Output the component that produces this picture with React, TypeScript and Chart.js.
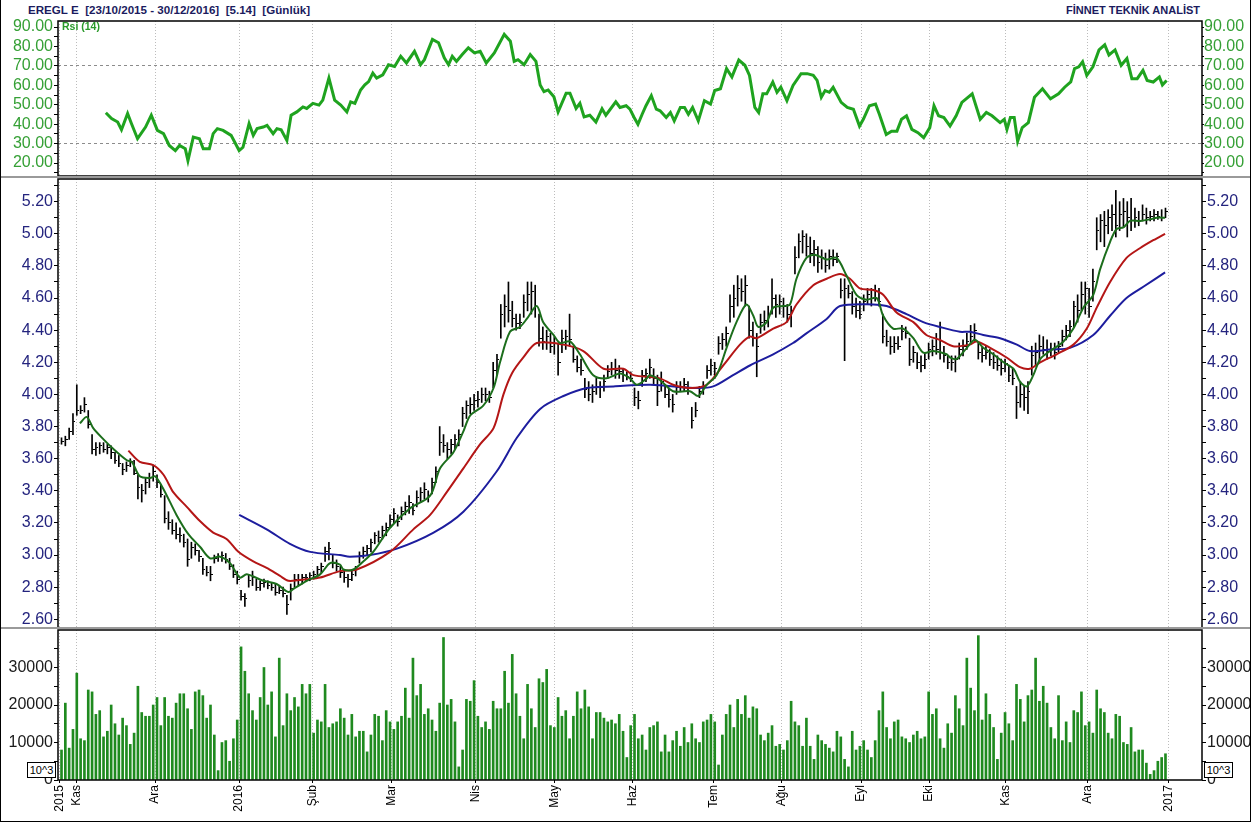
import React, { useEffect, useRef } from 'react';
import { Chart, registerables } from 'chart.js';

Chart.register(...registerables);

// ---------- x axis (trading-day index) ----------
const monthTickPos = [-0.6, 4, 24.5, 46.5, 65.8, 86.5, 108.5, 129, 149.5, 170.8, 188.4, 209.3, 227.1, 247.2, 268.7, 289.9];
const monthTickLabels = ['2015', 'Kas', 'Ara', '2016', 'Şub', 'Mar', 'Nis', 'May', 'Haz', 'Tem', 'Ağu', 'Eyl', 'Eki', 'Kas', 'Ara', '2017'];

// ---------- daily price bars ----------
const highs = [
  3.73, 3.74, 3.79, 3.88, 4.06, 3.93, 3.98, 3.90, 3.75, 3.70,
  3.70, 3.70, 3.69, 3.68, 3.64, 3.62, 3.57, 3.58, 3.60, 3.59,
  3.50, 3.44, 3.48, 3.51, 3.56, 3.50, 3.44, 3.37, 3.27, 3.22,
  3.20, 3.17, 3.13, 3.10, 3.08, 3.07, 3.03, 2.98, 2.93, 2.93,
  3.00, 3.01, 3.02, 3.01, 2.98, 2.94, 2.90, 2.78, 2.76, 2.88,
  2.90, 2.85, 2.84, 2.85, 2.84, 2.83, 2.82, 2.81, 2.80, 2.75,
  2.82, 2.88, 2.88, 2.88, 2.88, 2.89, 2.90, 2.93, 2.95, 3.05,
  3.08, 3.00, 2.97, 2.93, 2.90, 2.88, 2.90, 2.93, 3.02, 3.05,
  3.06, 3.10, 3.14, 3.15, 3.18, 3.20, 3.25, 3.29, 3.25, 3.30,
  3.33, 3.37, 3.32, 3.40, 3.42, 3.45, 3.40, 3.48, 3.55, 3.80,
  3.75, 3.70, 3.72, 3.75, 3.78, 3.92, 3.96, 3.98, 4.00, 4.02,
  4.04, 4.04, 4.02, 4.20, 4.25, 4.56, 4.62, 4.70, 4.58, 4.50,
  4.50, 4.62, 4.70, 4.70, 4.68, 4.50, 4.42, 4.40, 4.38, 4.36,
  4.32, 4.40, 4.40, 4.50, 4.30, 4.24, 4.22, 4.10, 4.08, 4.06,
  4.10, 4.08, 4.12, 4.18, 4.20, 4.22, 4.18, 4.16, 4.14, 4.14,
  4.04, 4.02, 4.15, 4.16, 4.22, 4.16, 4.12, 4.14, 4.06, 4.04,
  4.00, 4.08, 4.08, 4.10, 4.08, 3.92, 3.95, 4.05, 4.08, 4.18,
  4.22, 4.20, 4.36, 4.38, 4.42, 4.62, 4.68, 4.74, 4.72, 4.74,
  4.55, 4.45, 4.38, 4.50, 4.52, 4.55, 4.72, 4.62, 4.62, 4.60,
  4.56, 4.55, 4.92, 5.00, 5.02, 5.00, 4.98, 4.96, 4.92, 4.90,
  4.88, 4.90, 4.90, 4.88, 4.72, 4.72, 4.68, 4.64, 4.60, 4.58,
  4.62, 4.66, 4.66, 4.68, 4.66, 4.50, 4.40, 4.36, 4.36, 4.36,
  4.43, 4.42, 4.35, 4.30, 4.26, 4.24, 4.26, 4.32, 4.34, 4.38,
  4.45, 4.30, 4.24, 4.24, 4.24, 4.32, 4.34, 4.38, 4.43, 4.44,
  4.32, 4.30, 4.30, 4.28, 4.26, 4.24, 4.22, 4.22, 4.18, 4.16,
  4.05, 4.08, 4.05, 4.08, 4.30, 4.32, 4.37, 4.36, 4.34, 4.32,
  4.32, 4.33, 4.40, 4.43, 4.46, 4.58, 4.62, 4.70, 4.70, 4.66,
  4.78, 5.10, 5.12, 5.14, 5.15, 5.18, 5.27, 5.20, 5.22, 5.20,
  5.22, 5.16, 5.14, 5.18, 5.16, 5.14, 5.15, 5.14, 5.15, 5.16,
];
const lows = [
  3.69, 3.68, 3.72, 3.75, 3.87, 3.88, 3.89, 3.79, 3.63, 3.62,
  3.63, 3.64, 3.63, 3.60, 3.57, 3.55, 3.50, 3.52, 3.55, 3.50,
  3.35, 3.33, 3.38, 3.42, 3.46, 3.42, 3.36, 3.20, 3.16, 3.13,
  3.10, 3.08, 3.05, 2.93, 2.98, 3.00, 2.96, 2.88, 2.87, 2.84,
  2.95, 2.96, 2.96, 2.95, 2.91, 2.86, 2.82, 2.72, 2.68, 2.80,
  2.81, 2.78, 2.78, 2.80, 2.79, 2.78, 2.75, 2.76, 2.74, 2.63,
  2.72, 2.80, 2.81, 2.82, 2.84, 2.84, 2.85, 2.87, 2.89, 2.96,
  2.97, 2.92, 2.90, 2.86, 2.83, 2.80, 2.84, 2.87, 2.95, 2.98,
  3.00, 3.02, 3.07, 3.08, 3.10, 3.12, 3.17, 3.20, 3.18, 3.22,
  3.25, 3.26, 3.25, 3.30, 3.33, 3.35, 3.33, 3.38, 3.45, 3.62,
  3.64, 3.60, 3.63, 3.66, 3.68, 3.80, 3.85, 3.88, 3.90, 3.92,
  3.95, 3.96, 3.95, 4.04, 4.12, 4.35, 4.42, 4.45, 4.42, 4.40,
  4.41, 4.48, 4.52, 4.50, 4.48, 4.30, 4.28, 4.28, 4.26, 4.25,
  4.12, 4.26, 4.28, 4.30, 4.20, 4.14, 4.12, 3.98, 3.96, 3.95,
  4.00, 3.98, 4.02, 4.10, 4.12, 4.10, 4.10, 4.08, 4.09, 4.08,
  3.93, 3.91, 4.05, 4.08, 4.10, 4.06, 3.93, 4.02, 3.98, 3.92,
  3.89, 4.00, 4.02, 4.02, 4.00, 3.79, 3.86, 3.98, 4.00, 4.10,
  4.12, 4.10, 4.25, 4.28, 4.30, 4.45, 4.48, 4.55, 4.58, 4.55,
  4.35, 4.30, 4.11, 4.38, 4.40, 4.42, 4.50, 4.48, 4.50, 4.48,
  4.45, 4.42, 4.75, 4.85, 4.88, 4.86, 4.82, 4.80, 4.76, 4.78,
  4.76, 4.78, 4.80, 4.82, 4.60, 4.21, 4.60, 4.50, 4.48, 4.47,
  4.52, 4.56, 4.55, 4.58, 4.55, 4.32, 4.30, 4.25, 4.26, 4.28,
  4.34, 4.35, 4.18, 4.20, 4.16, 4.14, 4.16, 4.22, 4.24, 4.25,
  4.22, 4.20, 4.16, 4.15, 4.14, 4.22, 4.24, 4.28, 4.32, 4.33,
  4.22, 4.20, 4.22, 4.18, 4.16, 4.15, 4.12, 4.14, 4.08, 4.06,
  3.85, 3.92, 3.90, 3.88, 4.12, 4.18, 4.20, 4.25, 4.22, 4.24,
  4.22, 4.26, 4.30, 4.34, 4.36, 4.42, 4.45, 4.52, 4.50, 4.48,
  4.58, 4.90, 4.95, 4.92, 5.00, 5.02, 4.98, 5.02, 5.04, 4.98,
  5.02, 5.04, 5.05, 5.08, 5.06, 5.08, 5.08, 5.09, 5.08, 5.10,
];
const closes = [
  3.71, 3.72, 3.77, 3.83, 3.90, 3.90, 3.94, 3.81, 3.66, 3.67,
  3.68, 3.66, 3.67, 3.64, 3.59, 3.57, 3.53, 3.56, 3.58, 3.51,
  3.42, 3.40, 3.45, 3.48, 3.52, 3.45, 3.38, 3.23, 3.20, 3.15,
  3.13, 3.12, 3.08, 2.97, 3.05, 3.03, 2.99, 2.91, 2.89, 2.88,
  2.98, 2.99, 3.00, 2.97, 2.93, 2.88, 2.85, 2.74, 2.73, 2.84,
  2.86, 2.80, 2.82, 2.83, 2.81, 2.80, 2.77, 2.78, 2.76, 2.69,
  2.79, 2.85, 2.84, 2.86, 2.86, 2.87, 2.88, 2.91, 2.93, 3.02,
  3.04, 2.95, 2.93, 2.89, 2.86, 2.85, 2.88, 2.91, 3.00, 3.02,
  3.04, 3.08, 3.12, 3.11, 3.15, 3.17, 3.22, 3.26, 3.21, 3.27,
  3.30, 3.33, 3.28, 3.36, 3.39, 3.41, 3.37, 3.45, 3.52, 3.70,
  3.68, 3.66, 3.69, 3.72, 3.75, 3.88, 3.93, 3.94, 3.96, 3.97,
  4.00, 4.00, 3.98, 4.15, 4.22, 4.50, 4.55, 4.52, 4.47, 4.44,
  4.45, 4.57, 4.62, 4.64, 4.55, 4.35, 4.33, 4.36, 4.30, 4.32,
  4.20, 4.35, 4.36, 4.34, 4.22, 4.17, 4.15, 4.03, 4.00, 4.02,
  4.05, 4.04, 4.08, 4.14, 4.16, 4.15, 4.14, 4.12, 4.11, 4.10,
  3.98, 3.96, 4.12, 4.13, 4.17, 4.10, 4.02, 4.08, 4.00, 3.97,
  3.94, 4.04, 4.05, 4.06, 4.04, 3.84, 3.90, 4.02, 4.05, 4.15,
  4.18, 4.16, 4.32, 4.34, 4.38, 4.55, 4.60, 4.66, 4.64, 4.68,
  4.40, 4.35, 4.30, 4.45, 4.46, 4.50, 4.60, 4.56, 4.58, 4.55,
  4.50, 4.52, 4.85, 4.95, 4.98, 4.92, 4.88, 4.90, 4.82, 4.85,
  4.80, 4.86, 4.84, 4.86, 4.65, 4.66, 4.63, 4.55, 4.52, 4.50,
  4.58, 4.62, 4.60, 4.64, 4.58, 4.36, 4.33, 4.30, 4.32, 4.30,
  4.39, 4.38, 4.22, 4.26, 4.20, 4.18, 4.22, 4.28, 4.30, 4.28,
  4.26, 4.24, 4.20, 4.20, 4.22, 4.28, 4.30, 4.33, 4.36, 4.40,
  4.26, 4.24, 4.26, 4.22, 4.20, 4.18, 4.16, 4.19, 4.12, 4.10,
  3.95, 4.00, 3.98, 4.02, 4.24, 4.26, 4.30, 4.28, 4.27, 4.28,
  4.26, 4.30, 4.36, 4.40, 4.42, 4.55, 4.52, 4.62, 4.66, 4.55,
  4.70, 5.02, 5.08, 5.05, 5.10, 5.12, 5.05, 5.12, 5.14, 5.10,
  5.08, 5.10, 5.08, 5.12, 5.10, 5.11, 5.12, 5.11, 5.10, 5.14,
];

// ---------- moving averages (index, value) ----------
const ma5Idx = [4.8, 6.6, 8.3, 11.0, 13.6, 17.1, 18.4, 20.5, 23.2, 24.5, 26.7, 30.1, 33.2, 36.3, 38.9, 41.5, 44.1, 46.7, 48.5, 52.8, 56.3, 59.4, 60.7, 64.2, 67.7, 70.3, 72.9, 73.8, 76.4, 79.0, 81.6, 86.0, 91.2, 96.5, 99.1, 102.6, 105.2, 107.0, 110.4, 113.1, 114.8, 117.4, 120.0, 121.8, 124.4, 126.1, 128.8, 130.5, 133.1, 135.7, 139.2, 142.7, 146.2, 148.8, 150.6, 153.2, 154.0, 156.6, 160.1, 164.5, 166.7, 168.9, 171.5, 174.1, 176.7, 179.3, 181.1, 182.4, 184.6, 186.3, 188.9, 190.7, 192.4, 195.0, 197.2, 200.3, 202.9, 205.5, 208.1, 210.7, 213.4, 215.1, 217.7, 220.3, 223.0, 225.6, 228.2, 231.7, 232.6, 234.3, 237.0, 239.1, 241.3, 243.9, 246.6, 249.2, 250.9, 252.7, 254.4, 256.2, 258.8, 262.3, 264.9, 267.5, 270.1, 271.9, 274.5, 276.2, 278.0, 279.7, 282.4, 285.0, 286.7, 288.9];
const ma5Val = [3.82, 3.86, 3.79, 3.72, 3.66, 3.59, 3.58, 3.49, 3.48, 3.49, 3.41, 3.25, 3.13, 3.05, 2.98, 2.99, 2.95, 2.86, 2.88, 2.84, 2.82, 2.77, 2.79, 2.84, 2.88, 2.95, 2.94, 2.91, 2.91, 2.96, 3.02, 3.17, 3.29, 3.37, 3.54, 3.64, 3.77, 3.87, 3.93, 4.04, 4.20, 4.39, 4.42, 4.47, 4.55, 4.45, 4.37, 4.32, 4.33, 4.25, 4.12, 4.10, 4.13, 4.10, 4.06, 4.10, 4.12, 4.09, 4.02, 4.02, 3.99, 4.06, 4.12, 4.29, 4.45, 4.56, 4.49, 4.42, 4.45, 4.54, 4.55, 4.56, 4.72, 4.85, 4.87, 4.84, 4.85, 4.74, 4.62, 4.59, 4.60, 4.49, 4.41, 4.41, 4.35, 4.26, 4.27, 4.25, 4.23, 4.22, 4.29, 4.34, 4.29, 4.25, 4.20, 4.16, 4.08, 4.05, 4.12, 4.22, 4.27, 4.33, 4.41, 4.54, 4.62, 4.78, 4.95, 5.03, 5.04, 5.08, 5.08, 5.09, 5.10, 5.10];
const ma20Idx = [17.5, 20.5, 24.0, 26.7, 29.3, 32.8, 36.3, 39.7, 43.2, 46.3, 50.2, 53.7, 57.2, 59.4, 64.2, 67.7, 72.9, 77.3, 86.0, 92.1, 96.5, 100.8, 105.2, 109.6, 113.1, 115.7, 117.9, 120.9, 124.4, 131.4, 136.6, 141.9, 147.1, 149.7, 156.6, 160.1, 164.5, 168.9, 173.2, 177.6, 180.2, 182.0, 186.3, 189.8, 192.4, 196.8, 200.3, 203.8, 206.4, 209.0, 212.5, 215.1, 218.6, 223.0, 226.4, 229.9, 233.4, 237.8, 239.6, 243.1, 247.4, 250.9, 253.5, 256.2, 260.5, 264.9, 268.4, 271.0, 274.5, 278.8, 282.3, 285.8, 288.9];
const ma20Val = [3.65, 3.58, 3.56, 3.50, 3.39, 3.30, 3.21, 3.14, 3.10, 3.02, 2.96, 2.92, 2.87, 2.84, 2.85, 2.86, 2.90, 2.91, 3.02, 3.16, 3.25, 3.39, 3.54, 3.69, 3.79, 4.00, 4.13, 4.23, 4.32, 4.31, 4.27, 4.16, 4.16, 4.12, 4.10, 4.06, 4.04, 4.06, 4.18, 4.31, 4.36, 4.35, 4.41, 4.45, 4.56, 4.68, 4.72, 4.75, 4.72, 4.66, 4.65, 4.62, 4.51, 4.45, 4.37, 4.34, 4.30, 4.31, 4.33, 4.29, 4.23, 4.17, 4.16, 4.20, 4.25, 4.31, 4.41, 4.54, 4.70, 4.85, 4.91, 4.96, 5.00];
const ma50Idx = [46.5, 53.7, 59.8, 65.1, 72.9, 75.5, 80.8, 87.8, 97.4, 105.2, 113.9, 119.2, 125.3, 131.4, 137.5, 144.5, 154.1, 166.2, 170.6, 175.8, 180.2, 186.3, 191.5, 195.0, 200.3, 203.8, 212.5, 216.0, 221.2, 225.6, 229.9, 235.2, 237.8, 241.3, 245.7, 250.1, 253.5, 258.8, 264.0, 270.1, 274.5, 278.8, 283.2, 288.9];
const ma50Val = [3.25, 3.16, 3.07, 3.02, 3.00, 2.99, 3.00, 3.04, 3.14, 3.27, 3.52, 3.73, 3.91, 3.99, 4.04, 4.05, 4.06, 4.04, 4.05, 4.12, 4.18, 4.25, 4.32, 4.38, 4.47, 4.55, 4.56, 4.55, 4.50, 4.45, 4.42, 4.39, 4.39, 4.37, 4.35, 4.31, 4.27, 4.28, 4.29, 4.37, 4.49, 4.60, 4.67, 4.76];

// ---------- RSI (14) ----------
const rsiIdx = [11.6, 13.1, 14.7, 15.7, 17.3, 18.3, 19.9, 22.0, 23.5, 25.1, 26.7, 28.2, 29.8, 30.9, 32.4, 33.1, 34.5, 36.1, 37.1, 38.7, 39.7, 40.8, 42.3, 44.4, 46.5, 47.5, 49.1, 50.2, 51.2, 52.8, 53.8, 55.4, 56.4, 57.5, 59.0, 60.1, 61.6, 63.2, 64.2, 65.8, 67.4, 68.4, 70.0, 71.5, 73.1, 74.7, 75.7, 76.8, 78.3, 79.4, 80.4, 81.5, 82.5, 84.1, 85.6, 87.2, 88.8, 90.3, 92.4, 94.0, 95.0, 97.1, 98.7, 100.2, 101.3, 102.3, 103.4, 104.9, 106.5, 108.1, 109.6, 111.2, 113.3, 115.9, 117.5, 118.5, 119.5, 121.1, 122.7, 124.2, 125.3, 126.3, 127.4, 128.9, 130.0, 132.1, 133.1, 134.7, 135.7, 136.8, 138.3, 139.9, 141.5, 142.5, 145.1,
  146.2, 147.8, 148.8, 149.9, 150.9, 152.0, 153.0, 154.4, 155.7, 156.7, 158.3, 159.4, 160.4, 162.0, 163.1, 164.1, 165.2, 166.7, 168.3, 169.9, 171.0, 172.5, 174.1, 175.5, 177.3, 178.9, 180.1, 181.5, 182.5, 183.6, 184.6, 186.2, 187.3, 188.3, 189.9, 191.5, 193.6, 195.2, 196.8, 197.8, 198.9, 199.9, 201.0, 202.0, 204.1, 205.7, 207.3, 208.9, 209.9, 211.5, 213.1, 214.1, 215.9, 217.3, 218.7, 219.9, 221.2, 222.6, 224.2, 225.7, 227.3, 228.4, 229.6, 231.0, 232.6, 234.2, 235.7, 238.4, 240.5, 242.1, 243.6, 245.7, 246.8, 247.5, 248.4, 249.4, 250.3, 251.5, 253.1, 254.7, 256.8, 258.9, 261.0, 262.6, 264.2, 265.2, 266.3, 267.3, 268.4, 270.0, 271.6, 273.1, 274.2, 275.8, 277.4, 278.9, 280.2, 281.6, 283.1, 284.2, 285.8, 287.4, 288.2, 289.3];
const rsiVal = [45.9, 42.9, 41.1, 37.1, 45.5, 40.3, 32.5, 38.5, 44.6, 36.8, 35.1, 29.0, 26.4, 29.0, 27.3, 21.2, 33.3, 32.5, 27.3, 27.3, 35.1, 37.7, 36.8, 34.2, 26.4, 28.1, 40.3, 34.2, 37.7, 38.5, 39.4, 35.1, 37.7, 37.1, 31.6, 44.6, 46.3, 48.9, 48.1, 50.7, 49.8, 52.4, 63.7, 52.4, 49.8, 46.3, 51.5, 50.7, 57.6, 60.2, 61.9, 66.3, 63.7, 65.4, 70.6, 69.7, 74.9, 71.5, 77.5, 70.6, 73.2, 83.6, 81.9, 74.1, 70.6, 74.9, 72.3, 75.8, 79.3, 76.7, 77.5, 71.5, 76.7, 86.2, 82.7, 72.3, 73.2, 70.6, 75.8, 72.3, 60.2, 56.7, 57.6, 54.1, 46.3, 55.9, 55.9, 48.1, 50.7, 43.7, 44.6, 41.1, 47.9, 44.6, 51.5,
  48.6, 49.5, 47.7, 43.4, 39.9, 45.1, 49.5, 54.7, 47.7, 46.9, 43.4, 46.0, 41.7, 48.6, 48.6, 45.1, 48.6, 41.7, 52.1, 50.3, 57.3, 58.2, 68.6, 64.3, 73.0, 70.3, 65.1, 48.6, 46.0, 55.6, 55.6, 61.7, 56.4, 59.0, 52.1, 59.9, 66.0, 66.0, 65.1, 62.5, 53.8, 57.3, 56.4, 59.0, 51.2, 48.6, 47.7, 39.0, 42.5, 49.5, 50.3, 45.1, 34.7, 36.4, 36.4, 42.5, 44.3, 37.3, 35.6, 33.0, 38.2, 49.5, 44.3, 43.4, 39.0, 44.3, 51.2, 55.6, 42.5, 46.0, 44.3, 40.8, 42.5, 37.3, 43.4, 43.4, 31.2, 38.2, 40.8, 53.8, 58.2, 53.0, 55.6, 59.0, 61.7, 68.6, 69.5, 72.1, 65.1, 69.5, 78.2, 80.8, 75.6, 78.2, 70.3, 73.8, 63.4, 63.4, 67.7, 62.5, 61.7, 64.3, 60.2, 62.5];
const rsiGuides = [30, 70];

// ---------- volume (x 1000) ----------
const volumes = [
  8000, 20500, 8500, 13500, 28500, 11000, 10500, 24000, 23500, 17500,
  18500, 11500, 13000, 20000, 15000, 12000, 16500, 14500, 9500, 12500,
  25000, 18000, 17000, 17000, 20000, 22000, 14500, 22000, 17000, 16500,
  20500, 23000, 23000, 19000, 13500, 23500, 24000, 22500, 16500, 20000,
  12000, 2500, 10000, 10500, 5000, 11000, 16000,
  35500, 29000, 23000, 18500, 16000, 22000, 30000, 20000, 23500, 11500,
  32500, 14500, 23000, 18500, 22000, 19500, 25500, 23000, 25500, 12500,
  16000, 15500, 25500, 14000, 15000, 15500, 19000, 16500, 12000, 17500,
  11500, 13000, 13000, 7500, 12000, 17500, 17000, 10500, 18500, 15500,
  13500, 15500, 17000, 24500, 16500, 32500, 22500, 25500, 17500, 19000,
  16000, 13000, 20500, 38000, 20000, 21500, 15500, 3500, 8000,
  21500, 21000, 26500, 17000, 14000, 15500, 13500, 21000, 19000, 19000,
  29000, 20500, 33500, 23000, 17000, 11000, 25500, 19000, 14000,
  27000, 26000, 29500, 14500, 14000, 22000, 17000, 18500, 11000, 17000,
  23500, 19000, 24000, 19500, 11000, 18000, 18000, 16500, 15500, 16000,
  15000, 17500, 13000, 6000, 14500,
  17500, 11000, 12000, 8000, 14000, 14500, 15500, 7500, 12000, 7500,
  10500, 13000, 9000, 14000, 10000, 15000, 11000, 10000, 15500, 16000,
  17500, 15500, 4000, 12000, 17500, 20000, 14000, 21500, 17500, 22500,
  16500, 19500, 19000, 12000, 10500, 12500, 14500, 9000, 9500, 8000,
  10500, 21000, 15500, 14500, 9000, 16500, 9000, 5500, 12000, 10500,
  9500, 8500, 7500, 13000, 11500, 5500, 3500, 13000, 8000, 9000,
  10500, 8000, 6000, 10500, 18500, 23500, 14000, 11000, 15500, 16000,
  11500, 11000, 10000, 12000, 13000, 11000, 11500, 23500, 17500, 19000,
  11000, 8500, 15000, 12500, 22500, 19000, 14500, 32500, 24500, 18500,
  38500, 16000, 23000, 17500, 14000, 5500, 12500, 18000, 15000, 10500,
  25500, 21500, 15500, 22500, 24000, 32500, 21000, 25000, 20500, 14000,
  11000, 22500, 10500, 15500, 10000, 18500, 18000, 23500, 14500, 15500,
  12500, 24000, 19000, 18000, 12500, 11000, 17500, 17000, 10000, 9500,
  14000, 7500, 8000, 8000, 4500, 1500, 2500, 5000, 6000, 7000,
];

// ---------- axis labels ----------
const rsiTicks = [20, 30, 40, 50, 60, 70, 80, 90];
const priceTicks = [2.6, 2.8, 3.0, 3.2, 3.4, 3.6, 3.8, 4.0, 4.2, 4.4, 4.6, 4.8, 5.0, 5.2];
const volumeTicks = [0, 10000, 20000, 30000];

// ---------- layout ----------
const X_MIN = -0.92;
const X_MAX = 298.56;
const LEFT_W = 58;
const RIGHT_W = 49;
const SANS = '"Liberation Sans", Arial, sans-serif';
const TICK_FONT = { family: SANS, size: 16 };
const RSI_COLOR = '#35a035';
const PRICE_COLOR = '#24247e';
const VOL_COLOR = '#1a1a1a';

function withMinor(labels: number[], step: number, min: number, max: number): number[] {
  const set: number[] = [];
  labels.forEach((v) => {
    [v, v - step / 2, v + step / 2].forEach((t) => {
      const r = Math.round(t * 1000) / 1000;
      if (r >= min && r <= max && !set.some((s) => Math.abs(s - r) < 1e-6)) set.push(r);
    });
  });
  return set.sort((a, b) => a - b);
}

function yAxis(position: 'left' | 'right', min: number, max: number, labels: number[], step: number, color: string, fmt: (v: number) => string, tickLen = 4, pad = 1) {
  const all = withMinor(labels, step, min, max);
  return {
    type: 'linear',
    position,
    display: true,
    min,
    max,
    afterBuildTicks: (s: any) => { s.ticks = all.map((v) => ({ value: v })); },
    afterFit: (s: any) => { s.width = position === 'left' ? LEFT_W : RIGHT_W; },
    border: { display: false },
    grid: { drawOnChartArea: false, drawTicks: true, tickLength: tickLen, tickColor: '#000', tickWidth: 1 },
    ticks: {
      autoSkip: false,
      color,
      font: TICK_FONT,
      padding: pad,
      callback: (v: number) => {
        const hit = labels.find((l) => Math.abs(l - v) < 1e-6);
        return hit === undefined ? '' : fmt(hit);
      },
    },
  };
}

function xAxis(show: boolean) {
  return {
    type: 'linear',
    position: 'bottom',
    min: X_MIN,
    max: X_MAX,
    offset: false,
    afterBuildTicks: (s: any) => { s.ticks = monthTickPos.map((v) => ({ value: v })); },
    afterFit: (s: any) => { s.height = show ? 42 : 0; },
    border: { display: false, dash: [1, 2] },
    grid: { offset: false, color: '#bcbcbc', lineWidth: 1, drawOnChartArea: true, drawTicks: show, tickLength: 3, tickColor: '#000', borderDash: [1, 2] },
    ticks: {
      display: show,
      autoSkip: false,
      minRotation: 90,
      maxRotation: 90,
      padding: 2,
      color: '#000',
      font: { family: SANS, size: 12 },
      callback: (v: number) => {
        const k = monthTickPos.findIndex((p) => Math.abs(p - v) < 1e-6);
        return k < 0 ? '' : monthTickLabels[k];
      },
    },
  };
}

const framePlugin = {
  id: 'frame',
  afterDraw(chart: any, _args: any, opts: any) {
    const { ctx, chartArea: a } = chart;
    ctx.save();
    if (opts && opts.sep) {
      ctx.fillStyle = '#9a9a9a';
      ctx.fillRect(0, a.top - 3, chart.width, 2);
    }
    ctx.strokeStyle = '#000';
    ctx.lineWidth = 1.5;
    ctx.strokeRect(a.left, a.top, a.right - a.left, a.bottom - a.top);
    ctx.restore();
  },
};

const f2 = (v: number) => v.toFixed(2);
const f0 = (v: number) => String(Math.round(v));

const RSI_MIN = 13.31, RSI_MAX = 93.09;
const P_MIN = 2.546, P_MAX = 5.341;
const V_MIN = 0, V_MAX = 40000;

const baseOptions = (padTop: number, padBottom: number, sep: boolean) => ({
  animation: false,
  responsive: false,
  events: [],
  layout: { padding: { top: padTop, bottom: padBottom, left: 0, right: 0 } },
  plugins: { legend: { display: false }, tooltip: { enabled: false }, frame: { sep } },
});

export default function App() {
  const rsiRef = useRef<HTMLCanvasElement>(null);
  const priceRef = useRef<HTMLCanvasElement>(null);
  const volRef = useRef<HTMLCanvasElement>(null);

  useEffect(() => {
    const charts: Chart[] = [];
    const tick = document.createElement('canvas');
    tick.width = 5;
    tick.height = 1;
    const tctx = tick.getContext('2d');
    if (tctx) { tctx.fillStyle = '#000'; tctx.fillRect(3, 0, 2, 1); }

    const rsiLeft: any = yAxis('left', RSI_MIN, RSI_MAX, rsiTicks, 10, RSI_COLOR, f2);
    rsiLeft.grid = {
      drawOnChartArea: true, drawTicks: true, tickLength: 4, tickColor: '#000', tickWidth: 1, lineWidth: 1,
      color: (c: any) => (c.tick && rsiGuides.includes(c.tick.value) ? '#8c8c8c' : 'rgba(0,0,0,0)'),
      borderDash: [3, 3],
    };
    rsiLeft.border = { display: false, dash: [3, 3] };

    charts.push(new Chart(rsiRef.current as HTMLCanvasElement, {
      type: 'line',
      data: {
        datasets: [{
          data: rsiIdx.map((x, i) => ({ x, y: rsiVal[i] })),
          borderColor: '#1fa31f',
          borderWidth: 3,
          pointRadius: 0,
          tension: 0,
        }],
      },
      options: {
        ...baseOptions(12, 12, false),
        scales: {
          x: xAxis(false),
          y: rsiLeft,
          yr: yAxis('right', RSI_MIN, RSI_MAX, rsiTicks, 10, RSI_COLOR, f2, 2, 0),
        },
      } as any,
      plugins: [framePlugin],
    } as any));

    charts.push(new Chart(priceRef.current as HTMLCanvasElement, {
      type: 'bar',
      data: {
        datasets: [
          { type: 'line', data: ma5Idx.map((x, i) => ({ x, y: ma5Val[i] })), borderColor: '#1c6e1c', borderWidth: 2, pointRadius: 0, tension: 0.3, order: 0 },
          { type: 'line', data: ma20Idx.map((x, i) => ({ x, y: ma20Val[i] })), borderColor: '#b41616', borderWidth: 2, pointRadius: 0, tension: 0.3, order: 1 },
          { type: 'line', data: ma50Idx.map((x, i) => ({ x, y: ma50Val[i] })), borderColor: '#1d1d9e', borderWidth: 2, pointRadius: 0, tension: 0.3, order: 2 },
          { type: 'line', data: closes.map((c, i) => ({ x: i, y: c })), showLine: false, pointStyle: tick, pointRadius: 2, order: 3 },
          { type: 'bar', data: highs.map((h, i) => ({ x: i, y: [lows[i], h] })), backgroundColor: '#000', borderWidth: 0, barThickness: 1, order: 4 },
        ],
      },
      options: {
        ...baseOptions(12, 12, true),
        scales: {
          x: xAxis(false),
          y: yAxis('left', P_MIN, P_MAX, priceTicks, 0.2, PRICE_COLOR, f2),
          yr: yAxis('right', P_MIN, P_MAX, priceTicks, 0.2, PRICE_COLOR, f2),
        },
      } as any,
      plugins: [framePlugin],
    } as any));

    charts.push(new Chart(volRef.current as HTMLCanvasElement, {
      type: 'bar',
      data: {
        datasets: [{
          data: volumes.map((v, i) => ({ x: i, y: v })),
          backgroundColor: '#1f8a1f',
          borderWidth: 0,
          barThickness: 2,
        }],
      },
      options: {
        ...baseOptions(12, 0, true),
        scales: {
          x: xAxis(true),
          y: yAxis('left', V_MIN, V_MAX, volumeTicks, 10000, VOL_COLOR, f0),
          yr: yAxis('right', V_MIN, V_MAX, volumeTicks, 10000, VOL_COLOR, f0),
        },
      } as any,
      plugins: [framePlugin],
    } as any));

    return () => charts.forEach((c) => c.destroy());
  }, []);

  const abs = (top: number): React.CSSProperties => ({ position: 'absolute', left: 0, top });
  const box: React.CSSProperties = {
    position: 'absolute', top: 762, width: 29, height: 16, border: '1px solid #000', background: '#fff',
    fontFamily: SANS, fontSize: 11, lineHeight: '14px', textAlign: 'center', color: '#000', boxSizing: 'border-box',
  };

  return (
    <div style={{ position: 'absolute', left: 0, top: 0, width: 1251, height: 822, background: '#fff', overflow: 'hidden' }}>
      <div style={{ position: 'absolute', left: 28, top: 3, fontFamily: SANS, fontWeight: 'bold', fontSize: 11.6, lineHeight: '14px', color: '#1b1b5e', whiteSpace: 'pre' }}>
        {'EREGL E  [23/10/2015 - 30/12/2016]  [5.14]  [Günlük]'}
      </div>
      <div style={{ position: 'absolute', right: 51, top: 3, fontFamily: SANS, fontWeight: 'bold', fontSize: 11, lineHeight: '14px', color: '#1b1b5e', whiteSpace: 'pre' }}>
        {'FİNNET TEKNİK ANALİST'}
      </div>
      <canvas ref={rsiRef} width={1251} height={179} style={abs(9)} />
      <canvas ref={priceRef} width={1251} height={473} style={abs(167)} />
      <canvas ref={volRef} width={1251} height={204} style={abs(618)} />
      <div style={{ position: 'absolute', left: 62, top: 20, fontFamily: SANS, fontWeight: 'bold', fontSize: 10.5, lineHeight: '12px', color: '#2a9a2a' }}>
        Rsi (14)
      </div>
      <div style={{ ...box, left: 27 }}>10^3</div>
      <div style={{ ...box, left: 1204 }}>10^3</div>
      <div style={{ position: 'absolute', left: 0, top: 0, width: 1251, height: 822, boxSizing: 'border-box', borderLeft: '1px solid #000', borderRight: '1px solid #000', borderBottom: '1px solid #000', pointerEvents: 'none' }} />
    </div>
  );
}
